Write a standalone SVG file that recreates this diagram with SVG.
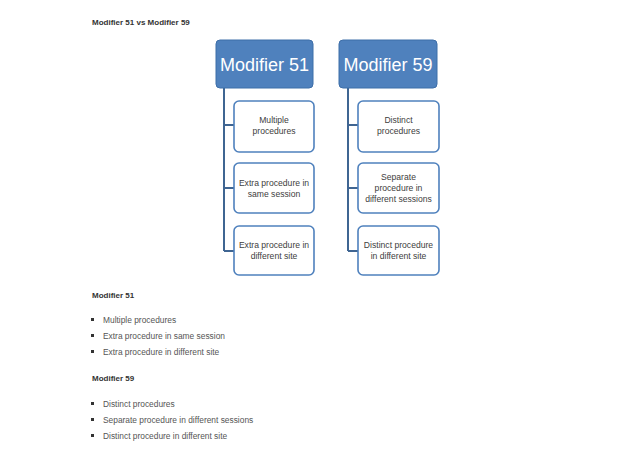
<svg xmlns="http://www.w3.org/2000/svg" width="626" height="451" viewBox="0 0 626 451">
<style>
.t{font-family:"Liberation Sans",Arial,sans-serif;fill:#3a3a3a}
.h{font-weight:bold;font-size:8px;fill:#333}
.li{font-size:8.4px;fill:#555}
.hd{fill:#4f81bd;stroke:#3d6ea8;stroke-width:1}
.hdt{font-family:"Liberation Sans",Arial,sans-serif;font-size:18px;fill:#fff;text-anchor:middle}
.ch{fill:#fff;stroke:#4f81bd;stroke-width:1.6}
.cht{font-family:"Liberation Sans",Arial,sans-serif;font-size:8.6px;fill:#404040;text-anchor:middle}
.ln{stroke:#3f6592;stroke-width:2;fill:none}
.bul{fill:#333}
</style>
<rect width="626" height="451" fill="#fff"/>
<text class="t h" x="92" y="25">Modifier 51 vs Modifier 59</text>
<g id="connectors">
<path class="ln" d="M224 88V251M224 125H234M224 188H234M224 251H234"/>
<path class="ln" d="M348 88V251M348 125H358M348 188H358M348 251H358"/>
</g>
<g id="m51">
<rect class="hd" x="216" y="40" width="97" height="48" rx="4"/>
<text class="hdt" x="264.5" y="71">Modifier 51</text>
</g>
<g id="m59">
<rect class="hd" x="339" y="40" width="98" height="48" rx="4"/>
<text class="hdt" x="388" y="71">Modifier 59</text>
</g>
<g id="m51a">
<rect class="ch" x="234" y="101" width="80" height="51" rx="5"/>
<text class="cht" x="274" y="123">Multiple</text>
<text class="cht" x="274" y="134">procedures</text>
</g>
<g id="m51b">
<rect class="ch" x="234" y="163" width="80" height="50" rx="5"/>
<text class="cht" x="274" y="186">Extra procedure in</text>
<text class="cht" x="274" y="197">same session</text>
</g>
<g id="m51c">
<rect class="ch" x="234" y="226" width="80" height="49" rx="5"/>
<text class="cht" x="274" y="248">Extra procedure in</text>
<text class="cht" x="274" y="259">different site</text>
</g>
<g id="m59a">
<rect class="ch" x="358" y="101" width="81" height="51" rx="5"/>
<text class="cht" x="398.5" y="123">Distinct</text>
<text class="cht" x="398.5" y="134">procedures</text>
</g>
<g id="m59b">
<rect class="ch" x="358" y="163" width="81" height="50" rx="5"/>
<text class="cht" x="398.5" y="180">Separate</text>
<text class="cht" x="398.5" y="191">procedure in</text>
<text class="cht" x="398.5" y="202">different sessions</text>
</g>
<g id="m59c">
<rect class="ch" x="358" y="226" width="81" height="49" rx="5"/>
<text class="cht" x="398.5" y="248">Distinct procedure</text>
<text class="cht" x="398.5" y="259">in different site</text>
</g>
<text class="t h" x="92" y="298">Modifier 51</text>
<rect class="bul" x="91" y="318" width="3" height="3"/>
<rect class="bul" x="91" y="334" width="3" height="3"/>
<rect class="bul" x="91" y="350" width="3" height="3"/>
<text class="t li" x="103" y="322.5">Multiple procedures</text>
<text class="t li" x="103" y="338.5">Extra procedure in same session</text>
<text class="t li" x="103" y="354.5">Extra procedure in different site</text>
<text class="t h" x="92" y="381">Modifier 59</text>
<rect class="bul" x="91" y="402" width="3" height="3"/>
<rect class="bul" x="91" y="418" width="3" height="3"/>
<rect class="bul" x="91" y="434" width="3" height="3"/>
<text class="t li" x="103" y="406.5">Distinct procedures</text>
<text class="t li" x="103" y="422.5">Separate procedure in different sessions</text>
<text class="t li" x="103" y="438.5">Distinct procedure in different site</text>
</svg>
